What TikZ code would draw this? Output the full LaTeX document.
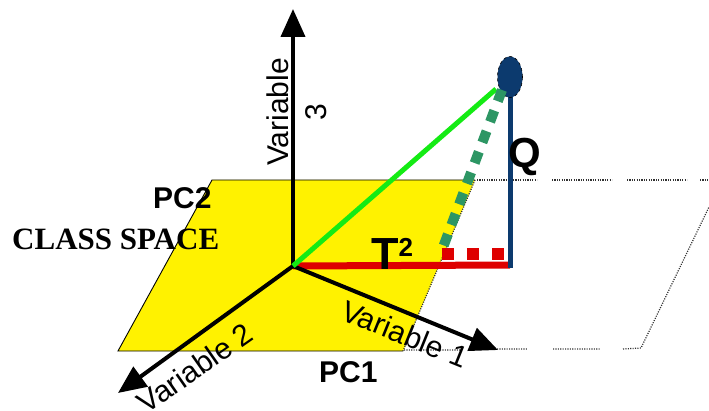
\documentclass[tikz,border=0pt]{standalone}
\usepackage{fontspec}
\setmainfont{Liberation Sans}
\newfontfamily\serifbold{Liberation Serif}
\usetikzlibrary{arrows.meta,shapes.geometric}
\definecolor{navyq}{RGB}{12,58,110}
\definecolor{brightgreen}{RGB}{20,235,20}
\definecolor{dgreen}{RGB}{45,150,100}
\definecolor{redl}{RGB}{222,0,0}
\definecolor{dotgray}{RGB}{50,50,50}
\tikzset{
  axisline/.style={line width=4pt,-{Triangle[length=28pt,width=24pt]}},
  dotline/.style={dotgray,line width=1.2pt,dash pattern=on 1.1pt off 1.3pt},
  lbl/.style={inner sep=0pt,font=\fontsize{30}{38}\selectfont},
  blbl/.style={inner sep=0pt,font=\fontsize{30}{38}\selectfont\bfseries},
}
\begin{document}
\begin{tikzpicture}[x=1pt,y=-1pt]
\useasboundingbox (0,0) rectangle (709,411);
% plane corners
\coordinate (TL) at (212,180);
\coordinate (TR) at (475,180);
\coordinate (BR) at (403,351);
\coordinate (BL) at (118,351);
\fill[yellow] (TL) -- (TR) -- (BR) -- (BL) -- cycle;
\draw[black,line width=0.9pt] (TR) -- (TL) -- (BL) -- (BR);
\draw[dotline] (TR) -- (BR);
% dotted extension of the plane
\coordinate (e1) at (477,180); \coordinate (e2) at (537,180);
\coordinate (e3) at (552,180); \coordinate (e4) at (612,180);
\coordinate (e5) at (627,180); \coordinate (e6) at (687,180);
\coordinate (e7) at (700,180); \coordinate (e8) at (709,180);
\draw[dotline] (e1) -- (e2) (e3) -- (e4) (e5) -- (e6) (e7) -- (e8);
\coordinate (f0) at (404,350); \coordinate (f1) at (460,350);
\coordinate (f2) at (497,349); \coordinate (f3) at (527,349);
\coordinate (f4) at (553,349); \coordinate (f5) at (600,349);
\coordinate (f6) at (623,349); \coordinate (f7) at (641,348);
\coordinate (f8) at (709,207);
\draw[dotline] (f0) -- (f1) (f2) -- (f3) (f4) -- (f5) (f6) -- (f7) -- (f8);
% origin and axes
\coordinate (O) at (293,266);
\coordinate (V3) at (293,9);
\coordinate (V2) at (118,393);
\coordinate (V1) at (498,350);
\coordinate (F) at (510,265);
% red T2 line
\draw[redl,line width=7pt] (O) -- (F);
\coordinate (r1) at (441.5,254); \coordinate (r2) at (504,254);
\draw[redl,line width=12pt,dash pattern=on 12pt off 13.25pt] (r1) -- (r2);
% axes
\draw[axisline] (O) -- (V3);
\draw[axisline] (O) -- (V2);
\draw[axisline] (O) -- (V1);
% point Q and its line
\draw[navyq,line width=5pt] (510,95) -- (510,268);
\node[ellipse,fill=navyq,draw=black,dashed,line width=0.6pt,minimum width=25pt,minimum height=41pt,inner sep=0pt] (P) at (510,77) {};
% green lines
\coordinate (G) at (496,89);
\draw[brightgreen,line width=5pt] (O) -- (G);
\coordinate (d1) at (502,90); \coordinate (d2) at (442,250);
\draw[dgreen,line width=10pt,dash pattern=on 12pt off 10pt] (d1) -- (d2);
% labels
\node[lbl,align=center,rotate=90] (v3lbl) at (297,112) {Variable\\3};
\node[lbl,rotate=35] (v2lbl) at (195,368) {Variable 2};
\node[lbl,rotate=-22] (v1lbl) at (405,334) {Variable 1};
\node[blbl,anchor=base west] (pc2) at (153,209) {PC2};
\node[blbl,anchor=base west] (pc1) at (319,382) {PC1};
\node[inner sep=0pt,anchor=base west,font=\fontsize{42}{42}\selectfont\bfseries] (qlbl) at (508,168) {Q};
\node[inner sep=0pt,anchor=base west,font=\fontsize{45}{45}\selectfont\bfseries] (tlbl) at (371,270) {T\raisebox{13pt}{\fontsize{26}{26}\selectfont 2}};
\node[inner sep=0pt,anchor=base west,font=\fontsize{31}{31}\serifbold\bfseries] (cls) at (12,250) {CLASS SPACE};
\end{tikzpicture}
\end{document}
